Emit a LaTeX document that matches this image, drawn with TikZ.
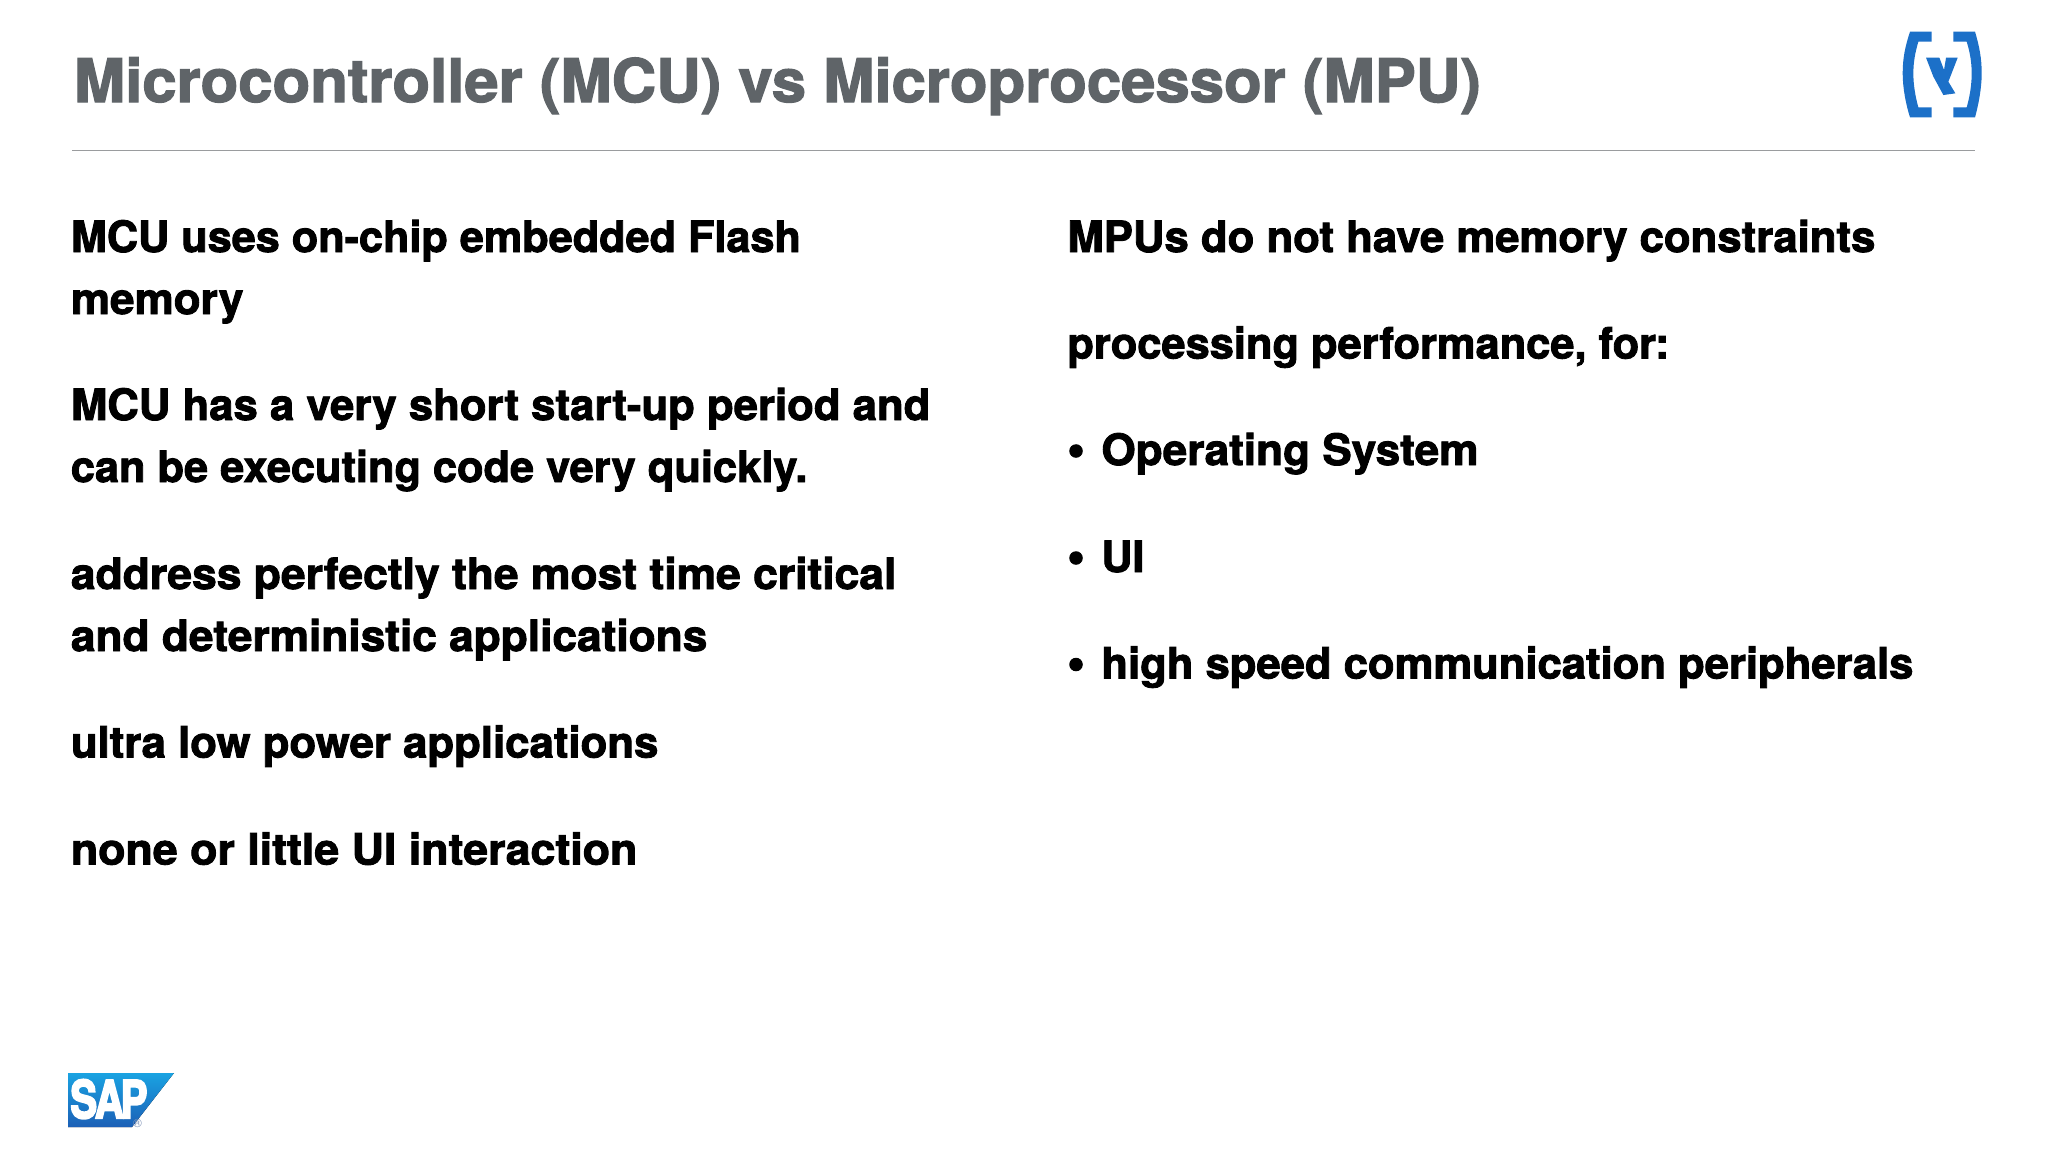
\documentclass[tikz,border=0pt]{standalone}
\usepackage{graphicx}
\usepackage{fontspec}
\setmainfont{TeX Gyre Heros}[BoldFeatures={FakeBold=2}]
\newfontfamily\logofont{TeX Gyre Heros}[BoldFeatures={FakeBold=4}]
\definecolor{titlegray}{HTML}{5F6468}
\definecolor{rulegray}{HTML}{9A9C9E}
\definecolor{capblue}{HTML}{1C70C8}
\definecolor{saptop}{HTML}{1AA3E2}
\definecolor{sapbot}{HTML}{1B5FB6}
\definecolor{reggray}{HTML}{7F93B8}
\newsavebox{\fitbox}
% set a line so that it spans #1 reference pixels
\newcommand{\fitline}[2]{\sbox{\fitbox}{#2}\pgfmathsetmacro{\fitr}{(#1)*0.5/\the\wd\fitbox}\scalebox{\fitr}[1]{\usebox{\fitbox}}}
\tikzset{
  titletext/.style={anchor=base west,inner sep=0pt,text=titlegray,font=\fontsize{30}{30}\selectfont\bfseries},
  bodytext/.style={anchor=base west,inner sep=0pt,text=black,font=\fontsize{21.6}{21.6}\selectfont\bfseries},
  bulletmark/.style={anchor=base,inner sep=0pt,text=black,font=\fontsize{25}{25}\selectfont\bfseries},
  headrule/.style={draw=rulegray,line width=0.7pt},
  caplogo/.style={fill=capblue,draw=none},
}
\begin{document}
\begin{tikzpicture}[x=0.5pt,y=-0.5pt]
\useasboundingbox (0,0) rectangle (2048,1152);
\fill[white] (0,0) rectangle (2048,1152);

\node[titletext] (title) at (73.5,102) {\fitline{1407}{Microcontroller (MCU) vs Microprocessor (MPU)}};
\coordinate (ruleL) at (72,150.5);
\coordinate (ruleR) at (1975,150.5);
\draw[headrule] (ruleL) -- (ruleR);

\node[bodytext] (l1) at (70.5,252) {\fitline{730}{MCU uses on-chip embedded Flash}};
\node[bodytext] (l2) at (70.5,314) {\fitline{172.5}{memory}};
\node[bodytext] (l3) at (70.5,420) {\fitline{859.5}{MCU has a very short start-up period and}};
\node[bodytext] (l4) at (70.5,482) {\fitline{736.5}{can be executing code very quickly.}};
\node[bodytext] (l5) at (70.5,589) {\fitline{825.5}{address perfectly the most time critical}};
\node[bodytext] (l6) at (70.5,651) {\fitline{636.5}{and deterministic applications}};
\node[bodytext] (l7) at (70.5,757.5) {\fitline{587.5}{ultra low power applications}};
\node[bodytext] (l8) at (70.5,864.5) {\fitline{566.5}{none or little UI interaction}};

\node[bodytext] (r1) at (1067,252) {\fitline{808}{MPUs do not have memory constraints}};
\node[bodytext] (r2) at (1067,358.5) {\fitline{602}{processing performance, for:}};
\node[bulletmark] (b1) at (1076,466) {•};
\node[bodytext] (r3) at (1101,465) {\fitline{377}{Operating System}};
\node[bulletmark] (b2) at (1076,573) {•};
\node[bodytext] (r4) at (1101,572) {\fitline{43}{UI}};
\node[bulletmark] (b3) at (1076,679.5) {•};
\node[bodytext] (r5) at (1101,678.5) {\fitline{812}{high speed communication peripherals}};

% bracket logo, top right
\begin{scope}[shift={(1880,10)},x=0.1667pt,y=-0.1667pt]
\fill[caplogo] (155,65) -- (90,65) .. controls (75,110) and (68,145) .. (68,190) .. controls (68,235) and (78,285) .. (90,322) -- (155,322) -- (155,292) -- (115,292) .. controls (106,260) and (100,225) .. (100,190) .. controls (100,155) and (106,125) .. (115,95) -- (155,95) -- cycle;
\fill[caplogo] (220,65) -- (285,65) .. controls (298,110) and (305,145) .. (305,190) .. controls (305,235) and (295,285) .. (285,322) -- (220,322) -- (220,292) -- (260,292) .. controls (269,260) and (275,225) .. (275,190) .. controls (275,155) and (269,125) .. (260,95) -- (220,95) -- cycle;
\fill[caplogo] (138,143) -- (178,143) -- (192,180) -- (198,143) -- (233,143) -- (205,215) -- (226,250) -- (190,255) -- (160,200) -- cycle;
\end{scope}

% SAP logo, bottom left
\fill[top color=saptop,bottom color=sapbot] (68,1073) -- (174,1073) -- (132,1127) -- (68,1127) -- cycle;
\node[anchor=base west,inner sep=0pt,text=white,font=\logofont\fontsize{26}{26}\selectfont\bfseries] (sap) at (70,1118) {\fitline{77}{S\kern-1.5ptA\kern-2ptP}};
\node[inner sep=0pt,text=reggray,font=\fontsize{6}{6}\selectfont] (reg) at (137.5,1123) {®};
\end{tikzpicture}
\end{document}
